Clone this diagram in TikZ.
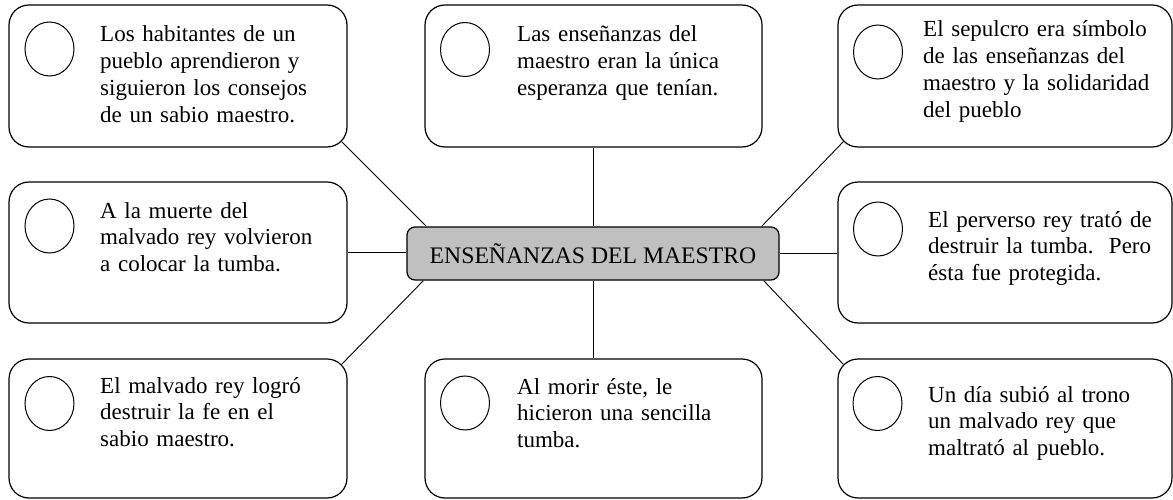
\documentclass[tikz,border=0pt]{standalone}
\usepackage{fontspec}
\setmainfont{Liberation Serif}
\usetikzlibrary{shapes.geometric,calc}
\definecolor{hubgray}{RGB}{192,192,192}
\begin{document}
\begin{tikzpicture}[x=1pt,y=-1pt,
  card/.style={draw, line width=1.2pt, rounded corners=20pt, inner sep=0pt},
  ring/.style={draw, ellipse, line width=1pt, minimum width=49pt, minimum height=54pt, inner sep=0pt},
  txt/.style={anchor=base west, inner sep=0pt, text width=228pt, align=left, font=\fontsize{23}{26.7}\selectfont},
  hub/.style={draw, line width=1.2pt, fill=hubgray, rounded corners=8pt, minimum width=372pt, minimum height=53pt, inner sep=0pt, font=\fontsize{23.7}{27}\selectfont},
  link/.style={line width=0.9pt}]
\useasboundingbox (0,0) rectangle (1173,500);
\fill[white] (0,0) rectangle (1173,500);

% boxes
\node[card, minimum width=338pt, minimum height=142pt] (tl) at (178,76) {};
\node[card, minimum width=337pt, minimum height=142pt] (tm) at (593.5,76) {};
\node[card, minimum width=334pt, minimum height=142pt] (tr) at (1005,76) {};
\node[card, minimum width=338pt, minimum height=141pt] (ml) at (178,252.5) {};
\node[card, minimum width=334pt, minimum height=141pt] (mr) at (1005,252.5) {};
\node[card, minimum width=338pt, minimum height=139pt] (bl) at (178,428.5) {};
\node[card, minimum width=337pt, minimum height=139pt] (bm) at (593.5,428.5) {};
\node[card, minimum width=334pt, minimum height=139pt] (br) at (1005,428.5) {};

% hub
\node[hub] (hub) at (593,253.5) {ENSEÑANZAS DEL MAESTRO};

% rings
\node[ring] (rtl) at (49.5,49) {};
\node[ring] (rtm) at (465,49.5) {};
\node[ring] (rtr) at (878,52) {};
\node[ring] (rml) at (49.5,226) {};
\node[ring] (rmr) at (878,229) {};
\node[ring] (rbl) at (49.5,403.5) {};
\node[ring] (rbm) at (465,403) {};
\node[ring] (rbr) at (877.5,403.5) {};

% texts
\node[txt] (ttl) at (100,42) {Los habitantes de un\\pueblo aprendieron y\\siguieron los consejos\\de un sabio maestro.};
\node[txt] (ttm) at (517,42) {Las enseñanzas del\\maestro eran la única\\esperanza que tenían.};
\node[txt] (ttr) at (923,37) {El sepulcro era símbolo\\de las enseñanzas del\\maestro y la solidaridad\\del pueblo};
\node[txt] (tml) at (100,218) {A la muerte del\\malvado rey volvieron\\a colocar la tumba.};
\node[txt] (tmr) at (928,227) {El perverso rey trató de\\destruir la tumba.\ \ Pero\\ésta fue protegida.};
\node[txt] (tbl) at (100,393) {El malvado rey logró\\destruir la fe en el\\sabio maestro.};
\node[txt] (tbm) at (517,394) {Al morir éste, le\\hicieron una sencilla\\tumba.};
\node[txt] (tbr) at (928,402) {Un día subió al trono\\un malvado rey que\\maltrató al pueblo.};

% connectors
\draw[link] ($(tl.south east)+(-5.9,-5.9)$) -- ($(hub.north west)+(20,0)$);
\draw[link] ($(tr.south west)+(5.9,-5.9)$) -- ($(hub.north east)+(-18,0)$);
\draw[link] ($(hub.south west)+(17,0)$) -- ($(bl.north east)+(-5.9,5.9)$);
\draw[link] ($(hub.south east)+(-16,0)$) -- ($(br.north west)+(5.9,5.9)$);
\draw[link] (ml.east) -- (ml.east -| hub.west);
\draw[link] (hub.east) -- (hub.east -| mr.west);
\draw[link] (tm.south) -- (tm.south |- hub.north);
\draw[link] (hub.south) -- (hub.south |- bm.north);
\end{tikzpicture}
\end{document}
